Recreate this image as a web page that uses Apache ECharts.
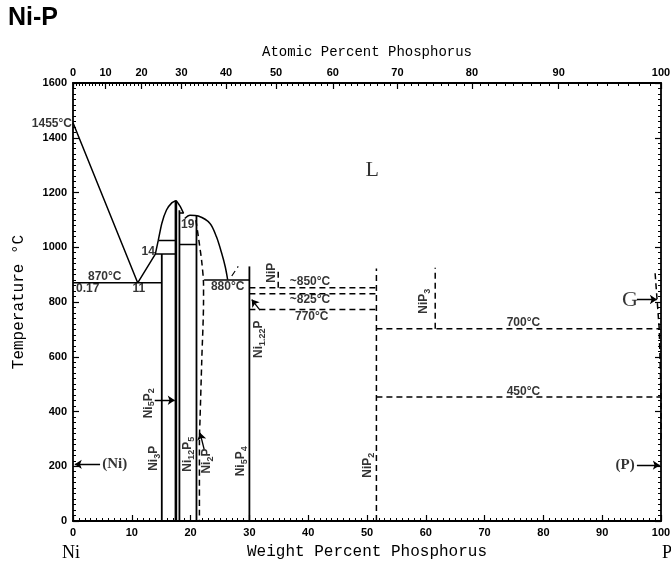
<!DOCTYPE html>
<html>
<head>
<meta charset="utf-8">
<script src="https://cdn.jsdelivr.net/npm/echarts@6/dist/echarts.min.js"></script>
<style>
  html, body { margin: 0; padding: 0; background: #fff; }
  #chart { width: 671px; height: 564px; }
</style>
</head>
<body>
<div id="chart"></div>
<script>
// axis ticks
const wtTicks = [0, 10, 20, 30, 40, 50, 60, 70, 80, 90, 100]
const atTicks = [0, 10, 20, 30, 40, 50, 60, 70, 80, 90, 100]
const tempTicks = [0, 200, 400, 600, 800, 1000, 1200, 1400, 1600]

// atomic masses for the top (atomic %) scale
const M_NI = 58.69
const M_P = 30.97
const atToWt = (a) => (100 * M_P * a) / (M_P * a + M_NI * (100 - a))

// solid boundaries [wt% P, °C]
const liqNiSide = [[0, 1455], [11, 870], [14, 975], [14.5, 1025]]
const ni5p2Dome = [[14.5, 1025], [15.1, 1087], [15.9, 1136], [16.8, 1162], [17.5, 1170], [18.2, 1150], [18.8, 1124]]
const ni2pDome = [[19.0, 1105], [19.9, 1117], [21.3, 1114], [23.3, 1087], [24.4, 1038], [25.3, 977], [25.9, 928], [26.3, 882]]
const eut870 = [[0, 870], [15.1, 870]]
const peri975 = [[14.0, 975], [17.5, 975]]
const trans1025 = [[14.5, 1025], [17.5, 1025]]
const ni3p = [[15.1, 0], [15.1, 975]]
const ni5p2 = [[17.5, 0], [17.5, 1170]]
const ni12p5 = [[18.1, 0], [18.1, 1135]]
const peri1125 = [[18.1, 1125], [18.8, 1125]]
const line1010 = [[18.1, 1010], [21.0, 1010]]
const ni2p = [[21.0, 0], [21.0, 1114]]
const eut880 = [[22.3, 880], [30.0, 880]]
const ni5p4 = [[30.0, 0], [30.0, 930]]

// dashed boundaries
const ni2pSolvus = [[20.9, 1099], [21.4, 1026], [21.9, 946], [22.2, 861], [22.2, 807], [21.9, 588], [21.6, 369], [21.5, 296], [21.5, 0]]
const liq880 = [[27.0, 895], [28.1, 930]]
const h850 = [[30.0, 852], [51.6, 852]]
const h830 = [[30.0, 830], [51.6, 830]]
const h773 = [[30.0, 773], [51.6, 773]]
const nip = [[34.9, 852], [34.9, 922]]
const nip2 = [[51.6, 0], [51.6, 922]]
const nip3 = [[61.6, 702], [61.6, 925]]
const h700 = [[51.6, 702], [99.7, 702]]
const h450 = [[51.6, 453], [100, 453]]
const gasLine = [[99.0, 905], [99.7, 702], [100, 450], [100, 300]]

// arrows: [from, to]
const arrows = [
    [[4.6, 207], [0.3, 207]],
    [[95.9, 204], [99.8, 204]],
    [[95.9, 809], [99.3, 809]],
    [[13.9, 441], [17.3, 441]],
    [[22.3, 262], [21.6, 322]],
    [[31.8, 770], [30.4, 809]],
]

// compound names (rotated), {..} = subscript
const compoundLabels = [
    ['Ni{3}P', 13.8, 229],
    ['Ni{5}P{2}', 12.8, 430],
    ['Ni{12}P{5}', 19.5, 244],
    ['Ni{2}P', 22.8, 219],
    ['Ni{5}P{4}', 28.6, 218],
    ['Ni{1.22}P', 31.6, 664],
    ['NiP', 33.8, 907],
    ['NiP{2}', 50.2, 204],
    ['NiP{3}', 59.7, 803],
]

const tempLabels = [
    ['870°C', 5.4, 892],
    ['0.17', 2.5, 847],
    ['11', 11.2, 847],
    ['14', 12.8, 983],
    ['19', 19.5, 1084],
    ['880°C', 26.3, 855],
    ['~850°C', 40.3, 875],
    ['~825°C', 40.3, 808],
    ['770°C', 40.6, 747],
    ['700°C', 76.6, 726],
    ['450°C', 76.6, 474],
]

const bigPhaseLabels = [['L', 50.9, 1282], ['G', 94.7, 807]]
const solidPhaseLabels = [['(Ni)', 7.1, 207], ['(P)', 93.9, 204]]
const meltLabel = [['1455°C', 0, 1450]]

const SANS = '"Liberation Sans", Arial, sans-serif'
const MONO = '"Liberation Mono", "DejaVu Sans Mono", monospace'
const SERIF = '"Liberation Serif", "DejaVu Serif", serif'

function richText(s) {
    return s.split(/(\{[^}]*\})/).filter(Boolean).map((p) =>
        p[0] === '{' ? '{s|' + p.slice(1, -1) + '}' : '{n|' + p + '}'
    ).join('')
}

function seg(data, dashed, width, smooth) {
    return {
        type: 'line',
        data: data,
        symbol: 'none',
        smooth: smooth || false,
        silent: true,
        animation: false,
        lineStyle: { color: '#000', width: width || 1.5, type: dashed ? [6, 4] : 'solid' },
    }
}

function labelSeries(items, label) {
    return {
        type: 'scatter',
        symbolSize: 0,
        silent: true,
        animation: false,
        data: items.map((it) => ({ value: [it[1], it[2]], name: it[0] })),
        label: Object.assign({ show: true, position: 'inside', color: '#000' }, label),
    }
}

const atMinor = []
for (let a = 1; a < 100; a++) if (a % 10) atMinor.push(atToWt(a))
const atMajor = atTicks.map(atToWt)

const chart = echarts.init(document.getElementById('chart'), null, { renderer: 'canvas' })

const commonTick = { inside: true, length: 6, lineStyle: { color: '#000', width: 1.2 } }
const commonMinor = { show: true, splitNumber: 10, length: 3, lineStyle: { color: '#000', width: 1 } }
const axisLine = { show: true, onZero: false, lineStyle: { color: '#000', width: 1.8 } }
const tickFont = { color: '#000', fontFamily: SANS, fontSize: 11, fontWeight: 'bold' }
const plain = (v) => String(v)

const option = {
    backgroundColor: '#fff',
    animation: false,
    grid: { left: 73, right: 10, top: 83, bottom: 43, outerBoundsMode: 'none' },
    graphic: [
        { type: 'text', left: 8, top: 6, style: { text: 'Ni-P', font: 'bold 25px ' + SANS, fill: '#000' } },
        { type: 'text', left: 62, top: 544, style: { text: 'Ni', font: '18px ' + SERIF, fill: '#000' } },
        { type: 'text', left: 662, top: 544, style: { text: 'P', font: '18px ' + SERIF, fill: '#000' } },
    ],
    xAxis: [
        {
            type: 'value', position: 'bottom', min: 0, max: 100, interval: 10,
            name: 'Weight Percent Phosphorus', nameLocation: 'middle', nameGap: 23,
            nameTextStyle: { fontFamily: MONO, fontSize: 16, color: '#000' },
            axisLine: axisLine, axisTick: commonTick, minorTick: commonMinor,
            axisLabel: Object.assign({ margin: 6, customValues: wtTicks, formatter: plain }, tickFont),
            splitLine: { show: false },
        },
        {
            type: 'value', position: 'top', min: 0, max: 100,
            axisLine: axisLine,
            axisTick: { inside: true, length: 3, customValues: atMinor, lineStyle: { color: '#000', width: 1 } },
            axisLabel: { show: false },
            splitLine: { show: false },
        },
        {
            type: 'value', position: 'top', min: 0, max: 100,
            name: 'Atomic Percent Phosphorus', nameLocation: 'middle', nameGap: 24,
            nameTextStyle: { fontFamily: MONO, fontSize: 14, color: '#000' },
            axisLine: { show: false, onZero: false },
            axisTick: Object.assign({ customValues: atMajor }, commonTick),
            axisLabel: Object.assign({
                margin: 5,
                customValues: atMajor,
                formatter: (v) => {
                    const i = atMajor.findIndex((w) => Math.abs(w - v) < 1e-6)
                    return i >= 0 ? String(atTicks[i]) : ''
                },
            }, tickFont),
            splitLine: { show: false },
        },
    ],
    yAxis: [
        {
            type: 'value', position: 'left', min: 0, max: 1600, interval: 200,
            name: 'Temperature °C', nameLocation: 'middle', nameGap: 46, nameRotate: 90,
            nameTextStyle: { fontFamily: MONO, fontSize: 16, color: '#000' },
            axisLine: axisLine, axisTick: commonTick, minorTick: commonMinor,
            axisLabel: Object.assign({ margin: 6, customValues: tempTicks, formatter: plain }, tickFont),
            splitLine: { show: false },
        },
        {
            type: 'value', position: 'right', min: 0, max: 1600, interval: 200,
            axisLine: axisLine, axisTick: commonTick, minorTick: commonMinor,
            axisLabel: { show: false },
            splitLine: { show: false },
        },
    ],
    series: [
        seg(liqNiSide, false, 1.5),
        seg(ni5p2Dome, false, 1.5, 0.15),
        seg(ni2pDome, false, 1.5, 0.3),
        seg(eut870, false, 1.5),
        seg(peri975, false, 1.5),
        seg(trans1025, false, 1.5),
        seg(ni3p, false, 1.8),
        seg(ni5p2, false, 2.6),
        seg(ni12p5, false, 1.8),
        seg(peri1125, false, 1.5),
        seg(line1010, false, 1.5),
        seg(ni2p, false, 1.8),
        seg(eut880, false, 1.5),
        seg(ni5p4, false, 1.8),
        seg(ni2pSolvus, true, 1.5, 0.3),
        seg(liq880, true, 1.2),
        seg(h850, true, 1.5),
        seg(h830, true, 1.5),
        seg(h773, true, 1.5),
        seg(nip, true, 1.5),
        seg(nip2, true, 1.5),
        seg(nip3, true, 1.5),
        seg(h700, true, 1.5),
        seg(h450, true, 1.5),
        seg(gasLine, true, 1.5),
        {
            type: 'lines',
            coordinateSystem: 'cartesian2d',
            silent: true,
            animation: false,
            symbol: ['none', 'arrow'],
            symbolSize: 7,
            lineStyle: { color: '#000', width: 1.3, opacity: 1 },
            data: arrows.map((a) => ({ coords: a })),
        },
        labelSeries(compoundLabels, {
            rotate: 90,
            formatter: (p) => richText(p.name),
            rich: {
                n: { fontFamily: SANS, fontSize: 12, fontWeight: 'bold', color: '#000', lineHeight: 16 },
                s: { fontFamily: SANS, fontSize: 9, fontWeight: 'bold', color: '#000', lineHeight: 9, verticalAlign: 'bottom' },
            },
        }),
        labelSeries(tempLabels, {
            formatter: (p) => p.name,
            fontFamily: SANS, fontSize: 12, fontWeight: 'bold',
        }),
        labelSeries(bigPhaseLabels, {
            formatter: (p) => p.name,
            fontFamily: SERIF, fontSize: 22,
        }),
        labelSeries(solidPhaseLabels, {
            formatter: (p) => p.name,
            fontFamily: SERIF, fontSize: 15, fontWeight: 'bold',
        }),
        labelSeries(meltLabel, {
            position: 'left', distance: 1,
            formatter: (p) => p.name,
            fontFamily: SANS, fontSize: 12, fontWeight: 'bold',
        }),
    ],
}

chart.setOption(option)
</script>
</body>
</html>
